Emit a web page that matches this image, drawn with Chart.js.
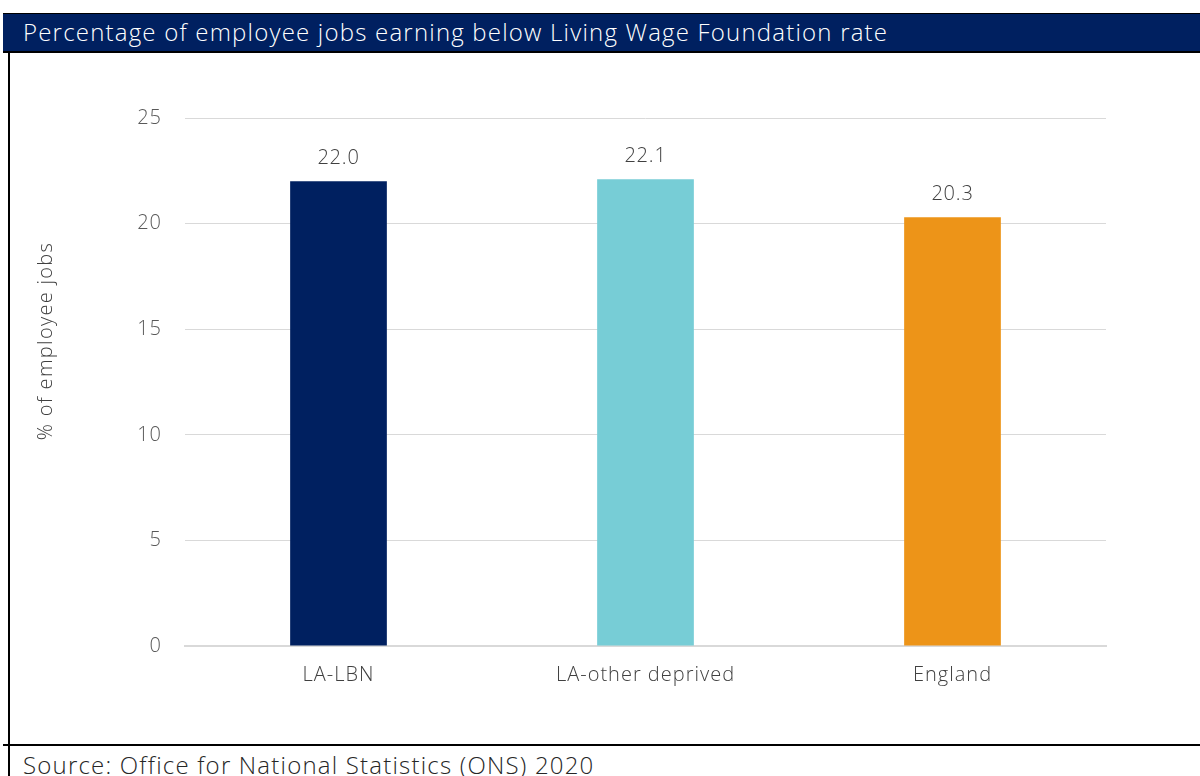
<!DOCTYPE html>
<html><head><meta charset="utf-8">
<script src="https://cdn.jsdelivr.net/npm/chart.js@4/dist/chart.umd.min.js"></script>
<style>
html,body{margin:0;padding:0;background:#fff;width:1200px;height:776px;overflow:hidden;font-family:"Open Sans",Lato,sans-serif;}
#hdr{position:absolute;left:3px;top:13px;width:1197px;height:38px;background:#002060;border-top:1px solid #000;box-sizing:border-box;}
#hdr span{position:absolute;left:20px;top:1px;color:#fff;font-size:24px;letter-spacing:1.2px;font-weight:300;white-space:nowrap;}
#ltop{position:absolute;left:3px;top:51px;width:1197px;height:2px;background:#000;}
#lleft{position:absolute;left:8px;top:51px;width:2px;height:725px;background:#000;}
#lbot{position:absolute;left:3px;top:744px;width:1197px;height:2px;background:#000;}
#src{position:absolute;left:23px;top:748px;font-size:24px;letter-spacing:1.2px;color:#262626;white-space:nowrap;font-weight:300;}
#wrap{position:absolute;left:0;top:0;width:1200px;height:776px;}
</style></head>
<body>
<div id="hdr"><span>Percentage of employee jobs earning below Living Wage Foundation rate</span></div>
<div id="ltop"></div><div id="lleft"></div><div id="lbot"></div>
<div id="src">Source: Office for National Statistics (ONS) 2020</div>
<div id="wrap"><canvas id="c"></canvas></div>
<script>
const categories = ["LA-LBN", "LA-other deprived", "England"];
const values = [22.0, 22.1, 20.3];
const barColors = ["#002060", "#77CDD6", "#ED9418"];
const yTicks = [0, 5, 10, 15, 20, 25];
const yTitle = "% of employee jobs";
const FONT = "'Open Sans', Lato, sans-serif";

const spacing = {
  id: "spacing",
  beforeDraw(chart) { chart.ctx.letterSpacing = "1px"; }
};

const valueLabels = {
  id: "valueLabels",
  afterDatasetsDraw(chart) {
    const ctx = chart.ctx;
    const meta = chart.getDatasetMeta(0);
    ctx.save();
    ctx.letterSpacing = "0.8px";
    ctx.font = "300 20px " + FONT;
    ctx.fillStyle = "#404040";
    ctx.textAlign = "center";
    ctx.textBaseline = "alphabetic";
    meta.data.forEach((bar, i) => {
      ctx.fillText(values[i].toFixed(1), bar.x, bar.y - 17);
    });
    // y axis title
    ctx.letterSpacing = "1.3px";
    ctx.translate(46, 341);
    ctx.rotate(-Math.PI / 2);
    ctx.textBaseline = "middle";
    ctx.fillStyle = "#404040";
    ctx.font = "300 20px " + FONT;
    ctx.fillText(yTitle, 0, 0);
    ctx.restore();
  }
};

new Chart(document.getElementById("c"), {
  type: "bar",
  data: {
    labels: categories,
    datasets: [{ data: values, backgroundColor: barColors, barPercentage: 0.63, categoryPercentage: 0.5 }]
  },
  options: {
    responsive: true, maintainAspectRatio: false, animation: false,
    layout: { padding: { top: 118, right: 94, left: 0, bottom: 0 } },
    plugins: { legend: { display: false }, tooltip: { enabled: false } },
    scales: {
      x: {
        grid: { display: false, drawTicks: false },
        border: { color: "#d9d9d9", width: 2 },
        ticks: { color: "#404040", font: { family: FONT, size: 20, weight: 300 }, padding: 17 },
        afterFit(s) { s.height = 130; }
      },
      y: {
        min: 0, max: 25,
        afterBuildTicks(s) { s.ticks = yTicks.map(v => ({ value: v })); },
        grid: { color: "#d9d9d9", drawTicks: false },
        border: { display: false },
        ticks: { color: "#595959", font: { family: FONT, size: 20, weight: 300 }, padding: 23 },
        afterFit(s) { s.width = 185; }
      }
    }
  },
  plugins: [spacing, valueLabels]
});
</script>
</body></html>
